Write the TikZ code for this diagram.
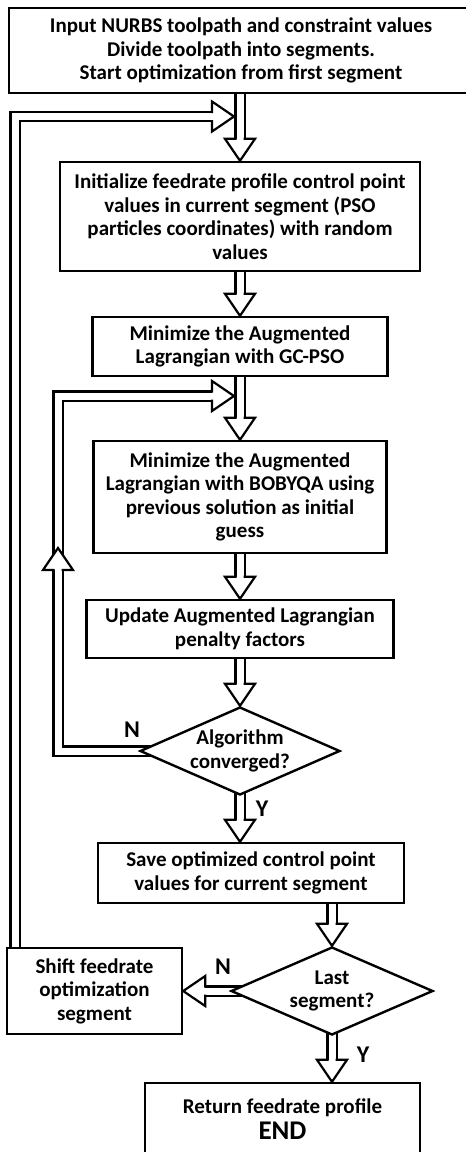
\documentclass[tikz,border=0pt]{standalone}
\usepackage{fontspec}
\setmainfont{Carlito}
\usetikzlibrary{shapes.geometric}
\usetikzlibrary{decorations.markings}
\usetikzlibrary{backgrounds}
\newcommand{\hhead}{%
  \fill[white, shorten >=0pt, shorten <=0pt] (0,0) -- (-22,15) -- (-22,-15) -- cycle;
  \draw[black, line width=2.2pt, line join=miter, shorten >=0pt, shorten <=0pt] (-22,3.5) -- (-22,15) -- (0,0) -- (-22,-15) -- (-22,-3.5);
}
\tikzset{
x=1pt, y=-1pt, % reference pixels
box/.style={draw, fill=white, rectangle, line width=2.4pt, inner sep=0pt, align=center, font=\bfseries\fontsize{21}{23.5}\selectfont},
choice/.style={draw, fill=white, diamond, aspect=2.27, line width=2.4pt, inner sep=0pt, align=center, font=\bfseries\fontsize{21}{23.5}\selectfont},
flow/.style={draw, line width=11.4pt, line join=miter, shorten >=20pt,
  postaction={draw=white, line width=7pt, shorten >=20pt},
  postaction={decorate, decoration={markings, mark=at position 1 with {\hhead}}}},
lbl/.style={font=\bfseries\fontsize{24}{28}\selectfont, inner sep=0pt},
}
\begin{document}
\begin{tikzpicture}
\useasboundingbox (0,0) rectangle (466,1152);
\node[box, minimum width=464pt, minimum height=85pt] (in) at (241,50.5) {Input NURBS toolpath and constraint values\\Divide toolpath into segments.\\Start optimization from first segment};
\node[box, minimum width=360pt, minimum height=109pt] (init) at (240,216.5) {Initialize feedrate profile control point\\values in current segment (PSO\\particles coordinates) with random\\values};
\node[box, minimum width=295pt, minimum height=59pt] (gc) at (240,346.5) {Minimize the Augmented\\Lagrangian with GC-PSO};
\node[box, minimum width=293pt, minimum height=112pt] (bob) at (240,497) {Minimize the Augmented\\Lagrangian with BOBYQA using\\previous solution as initial\\guess};
\node[box, minimum width=307pt, minimum height=58pt] (upd) at (240,629) {Update Augmented Lagrangian\\penalty factors};
\node[choice, minimum width=200pt, minimum height=88pt] (conv) at (240,751) {Algorithm\\converged?};
\node[box, minimum width=306pt, minimum height=60pt] (save) at (251,873) {Save optimized control point\\values for current segment};
\node[choice, minimum width=202pt, minimum height=88pt] (last) at (332,991) {Last\\segment?};
\node[box, minimum width=175pt, minimum height=86pt] (shift) at (94.5,991) {Shift feedrate\\optimization\\segment};
\node[box, minimum width=275pt, minimum height=72pt] (ret) at (282.5,1119) {Return feedrate profile\\[3pt]{\fontsize{27}{30}\selectfont END}};
\coordinate (back1) at (15,116.5);
\coordinate (join1) at (234,116.5);
\coordinate (back2) at (58,396);
\coordinate (join2) at (234,396);
\node[lbl] (n1) at (132,730) {N};
\node[lbl] (y1) at (262,809) {Y};
\node[lbl] (n2) at (223,967) {N};
\node[lbl] (y2) at (363,1055) {Y};
\begin{pgfonlayer}{background}
\draw[flow] (init.north |- in.south) -- (init.north);
\draw[flow] (init.south) -- (gc.north);
\draw[flow] (gc.south) -- (bob.north);
\draw[flow] (bob.south) -- (upd.north);
\draw[flow] (upd.south) -- (conv.north);
\draw[flow] (conv.center) -- (conv.center |- save.north);
\draw[flow] (last.north |- save.south) -- (last.north);
\draw[flow] (last.center) -- (shift.east);
\draw[flow] (last.center) -- (last.center |- ret.north);
% loops back
\draw[flow] (shift.north -| back1) -- (back1) -- (join1);
\draw[flow, postaction={decorate, decoration={markings, mark=at position 385pt with {\hhead}}}] (conv.center) -| (back2) -- (join2);
\end{pgfonlayer}
\end{tikzpicture}
\end{document}
